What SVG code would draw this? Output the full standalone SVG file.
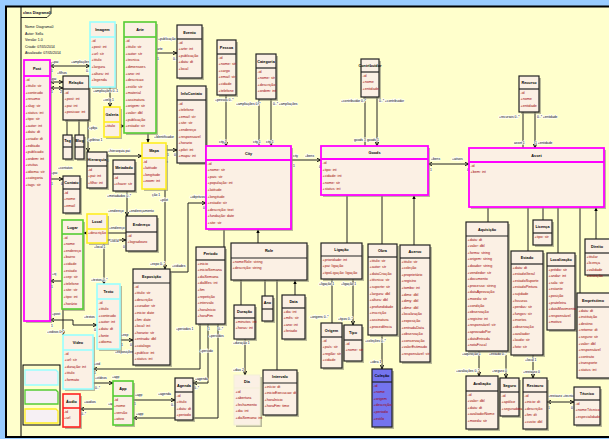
<svg xmlns="http://www.w3.org/2000/svg" width="609" height="439" viewBox="0 0 609 439">
<defs>
<style>
.sh{fill:#8c8c78;opacity:.6}
.b{fill:#fbf0e4;stroke:#222;stroke-width:1.2}
.mg{stroke:#ff00ff;stroke-width:1.8}
.cy{stroke:#99ffff;stroke-width:1.6}
.gr{stroke:#55cc33;stroke-width:1.6}
.ye{stroke:#ffee22;stroke-width:1.6}
.rd{stroke:#ff2222;stroke-width:1.6}
.pl{stroke:#f3efd6;stroke-width:1}
.bl{fill:#7474ee}
.hd{font-family:"Liberation Sans",Arial,sans-serif;font-size:3.8px;font-weight:bold;text-anchor:middle;fill:#000}
.at{font-family:"Liberation Sans",Arial,sans-serif;font-size:3.7px;fill:#a00000}
.lb{font-family:"Liberation Sans",Arial,sans-serif;font-size:3.3px;fill:#000;stroke:#fff;stroke-width:1.2px;paint-order:stroke}
.lg{font-family:"Liberation Sans",Arial,sans-serif;font-size:3.5px;fill:#002}
.c{fill:none;stroke:#222;stroke-width:1}
.o{marker-end:url(#open)}
.os{marker-start:url(#open)}
.t{marker-end:url(#tri)}
</style>
<marker id="open" viewBox="0 0 6 6" refX="6" refY="3" markerWidth="4" markerHeight="4" orient="auto-start-reverse"><path d="M0,0.5 L6,3 L0,5.5" fill="none" stroke="#000" stroke-width="1.3"/></marker>
<marker id="tri" viewBox="0 0 6 6" refX="6" refY="3" markerWidth="4" markerHeight="4" orient="auto"><path d="M0,0.5 L6,3 L0,5.5z" fill="#000"/></marker>
</defs>
<rect width="609" height="439" fill="#99ccff"/>
<rect x="6" y="6.5" width="610" height="430.5" fill="#ffffcc" stroke="#000" stroke-width="2"/>
<line x1="21" y1="7" x2="21" y2="437" stroke="#000" stroke-width="1"/>
<path d="M21,17.5 H47 L51,13.5 V7" fill="none" stroke="#000" stroke-width="0.8"/>
<text class="lg" x="23" y="14" font-weight="bold" fill="#000">class Diagrama0</text>
<g id="legenda-texto">
<text class="lg" x="25" y="28">Nome: Diagrama0</text>
<text class="lg" x="25" y="34.5">Autor: Sella</text>
<text class="lg" x="25" y="41">Versão: 1.0</text>
<text class="lg" x="25" y="47.5">Criado: 07/05/2014</text>
<text class="lg" x="25" y="54">Atualizado: 07/05/2014</text>
</g>

<g id="connectors">
<path class="c os o" d="M50,66 H90"/>
<text class="lb" x="52" y="63">+pai</text><text class="lb" x="71" y="63">+ampliações</text><text class="lb" x="51" y="71.5">1</text><text class="lb" x="86" y="71.5">0..*</text>
<path class="c os o" d="M50,82 H63"/>
<path class="c os o" d="M50,88 H63"/>
<text class="lb" x="57" y="74">+filhos</text><text class="lb" x="50" y="79.5">+pai</text><text class="lb" x="51" y="93">1</text><text class="lb" x="60" y="93">2</text>
<path class="c o" d="M110,87 V107"/>
<text class="lb" x="93" y="92">+ampliações 0..1</text><text class="lb" x="103" y="101">+velg 1</text>
<path class="c o" d="M120,126 H124"/>
<path class="c" d="M67,120 V135 M79,120 V135"/>
<path class="c o" d="M88,120 V152"/>
<text class="lb" x="89" y="129">+pbja</text><text class="lb" x="88" y="141">+ptbtiso 1</text>
<path class="c o" d="M156,53 H177"/>
<text class="lb" x="158" y="40">+publicação</text><text class="lb" x="157" y="50">arte</text><text class="lb" x="157" y="60">1</text><text class="lb" x="173" y="60">0..*</text>
<text class="lb" x="154" y="138">+Identificador</text>
<path class="c t" d="M148,133 V143"/>
<path class="c o" d="M226,95 V146"/>
<text class="lb" x="215" y="101">+pessoa 0..*</text><text class="lb" x="219" y="143">city 1</text>
<path class="c o" d="M259,99 V146 M271,99 V146"/>
<text class="lb" x="236" y="105">+ampliações 0..*</text><text class="lb" x="273" y="105">0..* +ampliações</text><text class="lb" x="253" y="143">city 1</text><text class="lb" x="266" y="143">city 1</text>
<path class="c o" d="M365,97 V146 M377,97 V146"/>
<text class="lb" x="341" y="102">+contribuidor 0..*</text><text class="lb" x="379" y="102">0..* +contribuidor</text><text class="lb" x="354" y="141">goods 1</text><text class="lb" x="367" y="141">goods 1</text>
<path class="c o" d="M523,112 V148 M535,112 V148"/>
<text class="lb" x="499" y="118">+recursos 0..*</text><text class="lb" x="537" y="118">0..* +entidade</text><text class="lb" x="514" y="144">asset 1</text><text class="lb" x="535" y="144">1 +entidade</text>
<path class="c o" d="M291,160 H321"/>
<text class="lb" x="293" y="157">city</text><text class="lb" x="293" y="167">1</text><text class="lb" x="305" y="157">+bens</text><text class="lb" x="319" y="168">0</text>
<path class="c os o" d="M428,164 H469"/>
<text class="lb" x="431" y="160">+bens</text><text class="lb" x="430" y="171">1</text><text class="lb" x="452" y="160">+ativos</text><text class="lb" x="467" y="171">0</text>
<path class="c t" d="M347,243 V195 M382,244 V195 M414,245 V195"/>
<path class="c t" d="M224,247 V229 M258,243 V229"/>
<path class="c t" d="M241,305 V280 M265,296 V280 M277,370 V280 M295,295 V280"/>
<path class="c t" d="M488,222 V207 M528,251 V207 M543,220 V207 M558,253 V207 M580,293 V207 M596,239 V207"/>
<path class="c o" d="M332,279 V323 M353,279 V325"/>
<text class="lb" x="319" y="285">+ligação 1</text><text class="lb" x="341" y="285">+ligação 1</text><text class="lb" x="310" y="318">+origens 0..*</text><text class="lb" x="338" y="320">+tipos 0..*</text>
<path class="c o" d="M382,335 V369"/>
<text class="lb" x="365" y="342">+coleções 0..*</text><text class="lb" x="370" y="363">+obra 1</text>
<path class="c o" d="M479,351 V376"/>
<text class="lb" x="462" y="355">+aquisição 1</text><text class="lb" x="456" y="372">+avaliações 0..*</text>
<path class="c o" d="M506,355 V378"/>
<text class="lb" x="489" y="355">+estado 0..*</text><text class="lb" x="492" y="372">+seguro 0</text>
<path class="c o" d="M533,330 V378"/>
<text class="lb" x="525" y="361">+local 1</text><text class="lb" x="523" y="373">+restauro 0</text>
<path class="c os o" d="M547,402 H574"/>
<text class="lb" x="548" y="397">+restauro +tecnico</text><text class="lb" x="548" y="409">1</text><text class="lb" x="571" y="409">0</text>
<path class="c o" d="M245,339 V375"/>
<text class="lb" x="233" y="344">+duração 1</text><text class="lb" x="233" y="371">+dias 2</text>
<path class="c o" d="M200,324 V369 H93"/>
<text class="lb" x="94" y="365">+vid</text><text class="lb" x="94" y="374">1</text>
<path class="c o" d="M208,324 V383 H193"/>
<text class="lb" x="195" y="380">+agenda</text><text class="lb" x="194" y="389">0..*</text>
<path class="c o" d="M218,324 V418 H133"/>
<text class="lb" x="136" y="415">+app</text>
<text class="lb" x="176" y="330">+periodos 1</text><text class="lb" x="208" y="330">1</text><text class="lb" x="218" y="330">0..*</text><text class="lb" x="209" y="337">+periodos</text><text class="lb" x="200" y="352">+periodo</text>
<path class="c o" d="M133,400 H175"/>
<text class="lb" x="135" y="396">+app</text><text class="lb" x="134" y="405">1</text><text class="lb" x="158" y="395">+agenda</text><text class="lb" x="171" y="406">0..*</text>
<path class="c o" d="M113,409 H80"/>
<text class="lb" x="84" y="403">+audios</text><text class="lb" x="81" y="415">0..*</text><text class="lb" x="108" y="405">+app</text>
<path class="c o" d="M93,383 H113"/>
<text class="lb" x="95" y="379">+vídeos</text><text class="lb" x="95" y="389">0..*</text><text class="lb" x="112" y="378">+app</text>
<path class="c os o" d="M50,320 H73 V325 H97"/>
<text class="lb" x="52" y="315">+post</text><text class="lb" x="51" y="327">1</text><text class="lb" x="84" y="318">+textos</text><text class="lb" x="94" y="331">0..*</text>
<path class="c os o" d="M50,281 H63 V335"/>
<text class="lb" x="52" y="275">+xj</text><text class="lb" x="51" y="288">1</text><text class="lb" x="47" y="333">+videos 0..*</text>
<path class="c o" d="M120,340 H133"/>
<text class="lb" x="121" y="336">+exp</text><text class="lb" x="121" y="346">1</text><text class="lb" x="130" y="346">0</text><text class="lb" x="115" y="353">+exposições</text>
<path class="c o" d="M50,179 H63"/>
<text class="lb" x="51" y="174">+pai</text><text class="lb" x="58" y="169">+contatos</text><text class="lb" x="51" y="185">1</text><text class="lb" x="61" y="185">0</text>
<path class="c t" d="M87,233 H83"/>
<path class="c o" d="M107,233 H126 M107,240 H126"/>
<text class="lb" x="109" y="229">+endereço</text><text class="lb" x="110" y="242">+local</text><text class="lb" x="123" y="248">0</text>
<path class="c o" d="M104,243 V284"/>
<text class="lb" x="94" y="248">+local 1</text><text class="lb" x="91" y="281">+textos 0..*</text>
<path class="c o" d="M127,191 V216"/>
<text class="lb" x="107" y="197">+metadados 0..*</text><text class="lb" x="108" y="212">+endereço</text><text class="lb" x="129" y="212">+endereçamento</text>
<path class="c o" d="M107,156 H142"/>
<text class="lb" x="108" y="152">+hierarquia pai</text><text class="lb" x="107" y="162">0</text>
<path class="c o" d="M166,150 H177"/>
<text class="lb" x="167" y="156">1</text><text class="lb" x="174" y="156">0</text><text class="lb" x="160" y="163">+pilot</text>
<path class="c o" d="M165,189 V269"/>
<text class="lb" x="152" y="196">ção 1</text><text class="lb" x="160" y="201">+pilot</text><text class="lb" x="150" y="265">+expo 0..*</text>
<path class="c o" d="M170,272 H188 V203 H206"/>
<text class="lb" x="172" y="267">+cidades</text><text class="lb" x="190" y="198">+objetivos</text><text class="lb" x="203" y="209">0</text>
</g>

<g id="n-post"><rect class="sh" x="26" y="62" width="26" height="261"/><rect class="b mg" x="24" y="60" width="26" height="261"/><line class="b mg" x1="24" y1="76" x2="50" y2="76"/><text class="hd" x="37" y="69.5">Post</text>
<text class="at" x="25.5" y="80.5">-id<tspan x="25.5" dy="6.6">+titulo: str</tspan><tspan x="25.5" dy="6.6">+conteudo</tspan><tspan x="25.5" dy="6.6">+resumo</tspan><tspan x="25.5" dy="6.6">+slug: str</tspan><tspan x="25.5" dy="6.6">+status: int</tspan><tspan x="25.5" dy="6.6">+tipo: str</tspan><tspan x="25.5" dy="6.6">+autor: int</tspan><tspan x="25.5" dy="6.6">+data: dt</tspan><tspan x="25.5" dy="6.6">+criado: dt</tspan><tspan x="25.5" dy="6.6">+editado</tspan><tspan x="25.5" dy="6.6">+publicado</tspan><tspan x="25.5" dy="6.6">+ordem: int</tspan><tspan x="25.5" dy="6.6">+visitas</tspan><tspan x="25.5" dy="6.6">+idioma: str</tspan><tspan x="25.5" dy="6.6">+categoria</tspan><tspan x="25.5" dy="6.6">+tags: str</tspan></text></g>

<g id="n-relacao"><rect class="sh" x="65" y="78" width="26" height="44"/><rect class="b" x="63" y="76" width="26" height="44" stroke-width="1.4"/><line class="b" x1="63" y1="89" x2="89" y2="89"/><text class="hd" x="76" y="84">Relação</text>
<text class="at" x="64.5" y="93.5">-id<tspan x="64.5" dy="6.6">+post: int</tspan><tspan x="64.5" dy="6.6">+pai: int</tspan><tspan x="64.5" dy="6.6">+posicao: int</tspan></text></g>

<g id="n-tag"><rect class="sh" x="65" y="137" width="9" height="24"/><rect class="b" x="63" y="135" width="9" height="24"/><line class="b" x1="63" y1="147" x2="72" y2="147"/><text class="hd" x="67.5" y="142" font-size="2.8px">Tag</text></g>
<g id="n-blog"><rect class="sh" x="77" y="137" width="9" height="24"/><rect class="b" x="75" y="135" width="9" height="24"/><line class="b" x1="75" y1="147" x2="84" y2="147"/><text class="hd" x="79.5" y="142" font-size="2.8px">Blog</text></g>

<g id="n-imagem"><rect class="sh" x="92" y="24" width="25" height="65"/><rect class="b cy" x="90" y="22" width="25" height="65"/><line class="b cy" x1="90" y1="37" x2="115" y2="37"/><text class="hd" x="102.5" y="31">Imagem</text>
<text class="at" x="91.5" y="41.5">-id<tspan x="91.5" dy="6.6">+post: int</tspan><tspan x="91.5" dy="6.6">+url: str</tspan><tspan x="91.5" dy="6.6">+titulo</tspan><tspan x="91.5" dy="6.6">+largura</tspan><tspan x="91.5" dy="6.6">+altura: int</tspan><tspan x="91.5" dy="6.6">+legenda</tspan></text></g>

<g id="n-arte"><rect class="sh" x="126" y="24" width="32" height="111"/><rect class="b gr" x="124" y="22" width="32" height="111"/><line class="b gr" x1="124" y1="37" x2="156" y2="37"/><text class="hd" x="140" y="31">Arte</text>
<text class="at" x="125.5" y="41.5">-id<tspan x="125.5" dy="6.6">+titulo: str</tspan><tspan x="125.5" dy="6.6">+autor: str</tspan><tspan x="125.5" dy="6.6">+tecnica</tspan><tspan x="125.5" dy="6.6">+dimensoes</tspan><tspan x="125.5" dy="6.6">+ano: int</tspan><tspan x="125.5" dy="6.6">+descricao</tspan><tspan x="125.5" dy="6.6">+estilo: str</tspan><tspan x="125.5" dy="6.6">+material</tspan><tspan x="125.5" dy="6.6">+assinatura</tspan><tspan x="125.5" dy="6.6">+origem: str</tspan><tspan x="125.5" dy="6.6">+valor: dbl</tspan><tspan x="125.5" dy="6.6">+publicação</tspan><tspan x="125.5" dy="6.6">+estado: str</tspan></text></g>

<g id="n-galeria"><rect class="sh" x="106" y="109" width="16" height="30"/><rect class="b ye" x="104" y="107" width="16" height="30"/><line class="b ye" x1="104" y1="122" x2="120" y2="122"/><text class="hd" x="112" y="116" font-size="3px">Galeria</text>
<text class="at" x="105" y="126.5">+titulo</text></g>

<g id="n-evento"><rect class="sh" x="179" y="27" width="25" height="53"/><rect class="b" x="177" y="25" width="25" height="53"/><line class="b" x1="177" y1="39" x2="202" y2="39"/><text class="hd" x="189.5" y="33.5">Evento</text>
<text class="at" x="178.5" y="43.5">-id<tspan x="178.5" dy="6.6">+arte: int</tspan><tspan x="178.5" dy="6.6">+publicação</tspan><tspan x="178.5" dy="6.6">+data: dt</tspan><tspan x="178.5" dy="6.6">+local</tspan></text></g>

<g id="n-infocontato"><rect class="sh" x="179" y="88" width="29" height="77"/><rect class="b" x="177" y="86" width="29" height="77"/><line class="b" x1="177" y1="100" x2="206" y2="100"/><text class="hd" x="191.5" y="94.5" font-size="3px">InfoContato</text>
<text class="at" x="178.5" y="104.5">-id<tspan x="178.5" dy="6.6">+telefone</tspan><tspan x="178.5" dy="6.6">+email: str</tspan><tspan x="178.5" dy="6.6">+site: str</tspan><tspan x="178.5" dy="6.6">+endereço</tspan><tspan x="178.5" dy="6.6">+responsavel</tspan><tspan x="178.5" dy="6.6">+horario</tspan><tspan x="178.5" dy="6.6">+pilot: int</tspan><tspan x="178.5" dy="6.6">+mapa: int</tspan></text></g>

<g id="n-pessoa"><rect class="sh" x="219" y="42" width="19" height="55"/><rect class="b" x="217" y="40" width="19" height="55"/><line class="b" x1="217" y1="54" x2="236" y2="54"/><text class="hd" x="226.5" y="48.5">Pessoa</text>
<text class="at" x="218.5" y="58.5">-id<tspan x="218.5" dy="6.6">+nome: str</tspan><tspan x="218.5" dy="6.6">+cargo</tspan><tspan x="218.5" dy="6.6">+email: str</tspan><tspan x="218.5" dy="6.6">+cidade</tspan><tspan x="218.5" dy="6.6">+telefone</tspan></text></g>

<g id="n-categoria"><rect class="sh" x="258" y="56" width="20" height="45"/><rect class="b" x="256" y="54" width="20" height="45"/><line class="b" x1="256" y1="68" x2="276" y2="68"/><text class="hd" x="266" y="62.5">Categoria</text>
<text class="at" x="257.5" y="72.5">-id<tspan x="257.5" dy="6.6">+nome: str</tspan><tspan x="257.5" dy="6.6">+descrição</tspan><tspan x="257.5" dy="6.6">+ordem: int</tspan></text></g>

<g id="n-contribuidor"><rect class="sh" x="363" y="61" width="18" height="38"/><rect class="b" x="361" y="59" width="18" height="38"/><line class="b" x1="361" y1="72" x2="379" y2="72"/><text class="hd" x="370" y="67" font-size="2.8px">Contribuidor</text>
<text class="at" x="362.5" y="76.5">-id<tspan x="362.5" dy="6.6">+nome</tspan><tspan x="362.5" dy="6.6">+entidade</tspan></text></g>

<g id="n-recurso"><rect class="sh" x="521" y="78" width="20" height="36"/><rect class="b" x="519" y="76" width="20" height="36"/><line class="b" x1="519" y1="89" x2="539" y2="89"/><text class="hd" x="529" y="84">Recurso</text>
<text class="at" x="520.5" y="93.5">-id<tspan x="520.5" dy="6.6">+nome</tspan><tspan x="520.5" dy="6.6">+entidade</tspan></text></g>

<g id="n-city"><rect class="sh" x="208" y="148" width="85" height="83"/><rect class="b mg" x="206" y="146" width="85" height="83"/><line class="b mg" x1="206" y1="160" x2="291" y2="160"/><text class="hd" x="248.5" y="154.5">City</text>
<text class="at" x="207.5" y="164.5">-id<tspan x="207.5" dy="6.6">+nome: str</tspan><tspan x="207.5" dy="6.6">+pais: str</tspan><tspan x="207.5" dy="6.6">+população: int</tspan><tspan x="207.5" dy="6.6">+latitude</tspan><tspan x="207.5" dy="6.6">+longitude</tspan><tspan x="207.5" dy="6.6">+estado: str</tspan><tspan x="207.5" dy="6.6">+descrição: text</tspan><tspan x="207.5" dy="6.6">+fundação: date</tspan><tspan x="207.5" dy="6.6">+site: str</tspan></text></g>

<g id="n-goods"><rect class="sh" x="323" y="148" width="107" height="49"/><rect class="b mg" x="321" y="146" width="107" height="49"/><line class="b mg" x1="321" y1="159" x2="428" y2="159"/><text class="hd" x="374.5" y="154">Goods</text>
<text class="at" x="322.5" y="164">-id<tspan x="322.5" dy="6.6">+tipo: int</tspan><tspan x="322.5" dy="6.6">+cidade: int</tspan><tspan x="322.5" dy="6.6">+nome: str</tspan><tspan x="322.5" dy="6.6">+status: int</tspan></text></g>

<g id="n-asset"><rect class="sh" x="471" y="150" width="135" height="59"/><rect class="b mg" x="469" y="148" width="135" height="59"/><line class="b mg" x1="469" y1="162" x2="604" y2="162"/><text class="hd" x="536.5" y="156.5">Asset</text>
<text class="at" x="470.5" y="166.5">-id<tspan x="470.5" dy="6.6">+bem: int</tspan></text></g>

<g id="n-contato"><rect class="sh" x="65" y="178" width="17" height="37"/><rect class="b" x="63" y="176" width="17" height="37"/><line class="b" x1="63" y1="189" x2="80" y2="189"/><text class="hd" x="71.5" y="184" font-size="3px">Contato</text>
<text class="at" x="64" y="193.5">-id<tspan x="64" dy="6.6">+nome</tspan><tspan x="64" dy="6.6">+email</tspan></text></g>

<g id="n-hierarquia"><rect class="sh" x="89" y="154" width="20" height="36"/><rect class="b" x="87" y="152" width="20" height="36"/><line class="b" x1="87" y1="166" x2="107" y2="166"/><text class="hd" x="97" y="160.5" font-size="3px">Hierarquia</text>
<text class="at" x="88" y="170.5">-id<tspan x="88" dy="6.6">+pai: int</tspan><tspan x="88" dy="6.6">+filho: int</tspan></text></g>

<g id="n-metadado"><rect class="sh" x="115" y="162" width="22" height="31"/><rect class="b" x="113" y="160" width="22" height="31"/><line class="b" x1="113" y1="174" x2="135" y2="174"/><text class="hd" x="124" y="168.5" font-size="3px">Metadado</text>
<text class="at" x="114" y="178.5">-id<tspan x="114" dy="6.6">+chave: str</tspan></text></g>

<g id="n-mapa"><rect class="sh" x="144" y="145" width="24" height="46"/><rect class="b ye" x="142" y="143" width="24" height="46"/><line class="b ye" x1="142" y1="158" x2="166" y2="158"/><text class="hd" x="154" y="152">Mapa</text>
<text class="at" x="143" y="162.5">-id<tspan x="143" dy="6.6">+latitude</tspan><tspan x="143" dy="6.6">+longitude</tspan><tspan x="143" dy="6.6">+zoom: int</tspan></text></g>

<g id="n-lugar"><rect class="sh" x="64" y="222" width="21" height="89"/><rect class="b gr" x="62" y="220" width="21" height="89"/><line class="b gr" x1="62" y1="234" x2="83" y2="234"/><text class="hd" x="72.5" y="228.5">Lugar</text>
<text class="at" x="63.5" y="238.5">-id<tspan x="63.5" dy="6.6">+nome</tspan><tspan x="63.5" dy="6.6">+endereço</tspan><tspan x="63.5" dy="6.6">+bairro</tspan><tspan x="63.5" dy="6.6">+cidade</tspan><tspan x="63.5" dy="6.6">+estado</tspan><tspan x="63.5" dy="6.6">+cep: str</tspan><tspan x="63.5" dy="6.6">+telefone</tspan><tspan x="63.5" dy="6.6">+site: str</tspan><tspan x="63.5" dy="6.6">+tipo: int</tspan><tspan x="63.5" dy="6.6">+horário</tspan></text></g>

<g id="n-local"><rect class="sh" x="89" y="216" width="20" height="29"/><rect class="b ye" x="87" y="214" width="20" height="29"/><line class="b ye" x1="87" y1="229" x2="107" y2="229"/><text class="hd" x="97" y="223">Local</text>
<text class="at" x="88" y="233.5">+descrição</text></g>

<g id="n-endereco"><rect class="sh" x="128" y="218" width="31" height="35"/><rect class="b" x="126" y="216" width="31" height="35"/><line class="b" x1="126" y1="232" x2="157" y2="232"/><text class="hd" x="141.5" y="225.5">Endereço</text>
<text class="at" x="127.5" y="236.5">-id<tspan x="127.5" dy="6.6">+logradouro</tspan></text></g>

<g id="n-texto"><rect class="sh" x="99" y="286" width="23" height="65"/><rect class="b cy" x="97" y="284" width="23" height="65"/><line class="b cy" x1="97" y1="299" x2="120" y2="299"/><text class="hd" x="108.5" y="293">Texto</text>
<text class="at" x="98.5" y="303.5">-id<tspan x="98.5" dy="6.6">+titulo</tspan><tspan x="98.5" dy="6.6">+conteudo</tspan><tspan x="98.5" dy="6.6">+autor: int</tspan><tspan x="98.5" dy="6.6">+data: dt</tspan><tspan x="98.5" dy="6.6">+fonte</tspan><tspan x="98.5" dy="6.6">+idioma</tspan></text></g>

<g id="n-exposicao"><rect class="sh" x="135" y="271" width="37" height="96"/><rect class="b" x="133" y="269" width="37" height="96"/><line class="b" x1="133" y1="283" x2="170" y2="283"/><text class="hd" x="151.5" y="277.5">Exposição</text>
<text class="at" x="134.5" y="287.5">-id<tspan x="134.5" dy="6.6">+titulo: str</tspan><tspan x="134.5" dy="6.6">+descrição</tspan><tspan x="134.5" dy="6.6">+curador: str</tspan><tspan x="134.5" dy="6.6">+inicio: date</tspan><tspan x="134.5" dy="6.6">+fim: date</tspan><tspan x="134.5" dy="6.6">+local: int</tspan><tspan x="134.5" dy="6.6">+horario: str</tspan><tspan x="134.5" dy="6.6">+entrada: dbl</tspan><tspan x="134.5" dy="6.6">+catalogo</tspan><tspan x="134.5" dy="6.6">+publico: int</tspan><tspan x="134.5" dy="6.6">+status: int</tspan></text></g>

<g id="n-video"><rect class="sh" x="65" y="337" width="30" height="54"/><rect class="b cy" x="63" y="335" width="30" height="54"/><line class="b cy" x1="63" y1="350" x2="93" y2="350"/><text class="hd" x="78" y="344">Vídeo</text>
<text class="at" x="64.5" y="354.5">-id<tspan x="64.5" dy="6.6">+url: str</tspan><tspan x="64.5" dy="6.6">+duração: int</tspan><tspan x="64.5" dy="6.6">+titulo</tspan><tspan x="64.5" dy="6.6">+formato</tspan></text></g>

<g id="n-app"><rect class="sh" x="115" y="383" width="20" height="44"/><rect class="b gr" x="113" y="381" width="20" height="44"/><line class="b gr" x1="113" y1="396" x2="133" y2="396"/><text class="hd" x="123" y="390">App</text>
<text class="at" x="114" y="400.5">-id<tspan x="114" dy="6.6">+nome</tspan><tspan x="114" dy="6.6">+versão</tspan><tspan x="114" dy="6.6">+ativo</tspan></text></g>

<g id="n-audio"><rect class="sh" x="65" y="396" width="17" height="33"/><rect class="b rd" x="63" y="394" width="17" height="33"/><line class="b rd" x1="63" y1="408" x2="80" y2="408"/><text class="hd" x="71.5" y="402.5">Áudio</text>
<text class="at" x="64" y="412.5">-id<tspan x="64" dy="6.6">+url</tspan></text></g>

<g id="n-periodo"><rect class="sh" x="198" y="249" width="29" height="77"/><rect class="b" x="196" y="247" width="29" height="77"/><line class="b" x1="196" y1="260" x2="225" y2="260"/><text class="hd" x="210.5" y="255">Periodo</text>
<text class="at" x="197.5" y="264.5">+inicio<tspan x="197.5" dy="6.6">+inicioSemana</tspan><tspan x="197.5" dy="6.6">+diaSemana</tspan><tspan x="197.5" dy="6.6">+diaMes: int</tspan><tspan x="197.5" dy="6.6">+fim</tspan><tspan x="197.5" dy="6.6">+repetição</tspan><tspan x="197.5" dy="6.6">+intervalo</tspan><tspan x="197.5" dy="6.6">+horaInicio</tspan><tspan x="197.5" dy="6.6">+horaFim</tspan></text></g>

<g id="n-role"><rect class="sh" x="233" y="245" width="76" height="37"/><rect class="b" x="231" y="243" width="76" height="37"/><line class="b" x1="231" y1="258" x2="307" y2="258"/><text class="hd" x="269" y="252">Role</text>
<text class="at" x="232.5" y="262.5">+nomeRole: string<tspan x="232.5" dy="6.6">+descrição: string</tspan></text></g>

<g id="n-duracao"><rect class="sh" x="236" y="307" width="21" height="34"/><rect class="b" x="234" y="305" width="21" height="34"/><line class="b" x1="234" y1="318" x2="255" y2="318"/><text class="hd" x="244.5" y="313">Duração</text>
<text class="at" x="235.5" y="322.5">+minutos: int<tspan x="235.5" dy="6.6">+horas: int</tspan></text></g>

<g id="n-ano"><rect class="sh" x="264" y="298" width="11" height="25"/><rect class="b" x="262" y="296" width="11" height="25"/><line class="b" x1="262" y1="309" x2="273" y2="309"/><text class="hd" x="267.5" y="304" font-size="3px">Ano</text></g>

<g id="n-data"><rect class="sh" x="284" y="297" width="23" height="44"/><rect class="b" x="282" y="295" width="23" height="44"/><line class="b" x1="282" y1="308" x2="305" y2="308"/><text class="hd" x="293.5" y="303">Data</text>
<text class="at" x="283.5" y="312.5">+dia: int<tspan x="283.5" dy="6.6">+mês: str</tspan><tspan x="283.5" dy="6.6">+ano: int</tspan><tspan x="283.5" dy="6.6">+feriado</tspan></text></g>

<g id="n-agenda"><rect class="sh" x="177" y="380" width="18" height="42"/><rect class="b" x="175" y="378" width="18" height="42"/><line class="b" x1="175" y1="392" x2="193" y2="392"/><text class="hd" x="184" y="386.5">Agenda</text>
<text class="at" x="176.5" y="396.5">-id<tspan x="176.5" dy="6.6">+titulo</tspan><tspan x="176.5" dy="6.6">+data: dt</tspan><tspan x="176.5" dy="6.6">+periodo</tspan></text></g>

<g id="n-dia"><rect class="sh" x="236" y="377" width="26" height="50" opacity=".3"/><rect class="b pl" x="234" y="375" width="26" height="50"/><line class="b pl" x1="234" y1="388" x2="260" y2="388"/><text class="hd" x="247" y="383">Dia</text>
<text class="at" x="235.5" y="392.5">+id<tspan x="235.5" dy="6.6">+abertura</tspan><tspan x="235.5" dy="6.6">+fechamento</tspan><tspan x="235.5" dy="6.6">+dia: int</tspan><tspan x="235.5" dy="6.6">+diaSemana: int</tspan></text></g>

<g id="n-intervalo"><rect class="sh" x="265" y="372" width="34" height="45"/><rect class="b" x="263" y="370" width="34" height="45"/><line class="b" x1="263" y1="383" x2="297" y2="383"/><text class="hd" x="280" y="378">Intervalo</text>
<text class="at" x="264.5" y="387.5">+início: dt<tspan x="264.5" dy="6.6">+inicioExecucao: dt</tspan><tspan x="264.5" dy="6.6">+horaInicio</tspan><tspan x="264.5" dy="6.6">+horaFim: time</tspan></text></g>

<g id="n-ligacao"><rect class="sh" x="323" y="245" width="41" height="36"/><rect class="b" x="321" y="243" width="41" height="36"/><line class="b" x1="321" y1="256" x2="362" y2="256"/><text class="hd" x="341.5" y="251">Ligação</text>
<text class="at" x="322.5" y="260.5">+prioridade: int<tspan x="322.5" dy="6.6">+pai: ligação</tspan><tspan x="322.5" dy="6.6">+tipoLigação: ligação</tspan></text></g>

<g id="n-obra"><rect class="sh" x="370" y="246" width="29" height="91"/><rect class="b" x="368" y="244" width="29" height="91"/><line class="b" x1="368" y1="257" x2="397" y2="257"/><text class="hd" x="382.5" y="252">Obra</text>
<text class="at" x="369.5" y="261.5">+titulo: str<tspan x="369.5" dy="6.6">+autor: str</tspan><tspan x="369.5" dy="6.6">+dataCriação</tspan><tspan x="369.5" dy="6.6">+técnica: str</tspan><tspan x="369.5" dy="6.6">+suporte: str</tspan><tspan x="369.5" dy="6.6">+largura: dbl</tspan><tspan x="369.5" dy="6.6">+altura: dbl</tspan><tspan x="369.5" dy="6.6">+profundidade</tspan><tspan x="369.5" dy="6.6">+inscrição</tspan><tspan x="369.5" dy="6.6">+assinatura</tspan><tspan x="369.5" dy="6.6">+procedência</tspan></text></g>

<g id="n-acervo"><rect class="sh" x="402" y="247" width="30" height="117"/><rect class="b" x="400" y="245" width="30" height="117"/><line class="b" x1="400" y1="258" x2="430" y2="258"/><text class="hd" x="415" y="253">Acervo</text>
<text class="at" x="401.5" y="262.5">+titulo: str<tspan x="401.5" dy="6.6">+coleção</tspan><tspan x="401.5" dy="6.6">+proprietário</tspan><tspan x="401.5" dy="6.6">+registro</tspan><tspan x="401.5" dy="6.6">+tombo: int</tspan><tspan x="401.5" dy="6.6">+dimx: dbl</tspan><tspan x="401.5" dy="6.6">+dimy: dbl</tspan><tspan x="401.5" dy="6.6">+dimz: dbl</tspan><tspan x="401.5" dy="6.6">+localização</tspan><tspan x="401.5" dy="6.6">+exposição</tspan><tspan x="401.5" dy="6.6">+entradaData</tspan><tspan x="401.5" dy="6.6">+observação</tspan><tspan x="401.5" dy="6.6">+conservação</tspan><tspan x="401.5" dy="6.6">+valorEstimado</tspan><tspan x="401.5" dy="6.6">+responsável: str</tspan></text></g>

<g id="n-origem"><rect class="sh" x="323" y="325" width="21" height="45"/><rect class="b" x="321" y="323" width="21" height="45"/><line class="b" x1="321" y1="337" x2="342" y2="337"/><text class="hd" x="331.5" y="331.5">Origem</text>
<text class="at" x="322.5" y="341.5">-id<tspan x="322.5" dy="6.6">+país: str</tspan><tspan x="322.5" dy="6.6">+região: str</tspan><tspan x="322.5" dy="6.6">+cidade</tspan></text></g>

<g id="n-tipo"><rect class="sh" x="346" y="327" width="18" height="36"/><rect class="b" x="344" y="325" width="18" height="36"/><line class="b" x1="344" y1="340" x2="362" y2="340"/><text class="hd" x="353" y="334">Tipo</text>
<text class="at" x="345.5" y="344.5">-id<tspan x="345.5" dy="6.6">+nome: str</tspan></text></g>

<g id="n-colecao"><rect class="sh" x="374" y="371" width="20" height="58"/><rect class="b bl" x="372" y="369" width="20" height="58"/><line class="b" x1="372" y1="382" x2="392" y2="382"/><text class="hd" x="382" y="377">Coleção</text>
<text class="at" x="373.5" y="386.5">-id<tspan x="373.5" dy="6.6">+nome</tspan><tspan x="373.5" dy="6.6">+origem</tspan><tspan x="373.5" dy="6.6">+descrição</tspan><tspan x="373.5" dy="6.6">+periodo</tspan><tspan x="373.5" dy="6.6">+estilo</tspan></text></g>

<g id="n-aquisicao"><rect class="sh" x="468" y="224" width="42" height="129"/><rect class="b" x="466" y="222" width="42" height="129"/><line class="b" x1="466" y1="236" x2="508" y2="236"/><text class="hd" x="487" y="230.5">Aquisição</text>
<text class="at" x="467.5" y="240.5">+data: dt<tspan x="467.5" dy="6.6">+valor: dbl</tspan><tspan x="467.5" dy="6.6">+forma: string</tspan><tspan x="467.5" dy="6.6">+origem: string</tspan><tspan x="467.5" dy="6.6">+doador: string</tspan><tspan x="467.5" dy="6.6">+vendedor: str</tspan><tspan x="467.5" dy="6.6">+documento</tspan><tspan x="467.5" dy="6.6">+processo: string</tspan><tspan x="467.5" dy="6.6">+dataAprovação</tspan><tspan x="467.5" dy="6.6">+moeda: str</tspan><tspan x="467.5" dy="6.6">+condição</tspan><tspan x="467.5" dy="6.6">+observação</tspan><tspan x="467.5" dy="6.6">+registro: int</tspan><tspan x="467.5" dy="6.6">+responsável: str</tspan><tspan x="467.5" dy="6.6">+aprovadoPor</tspan><tspan x="467.5" dy="6.6">+dataEntrada</tspan><tspan x="467.5" dy="6.6">+notaFiscal</tspan></text></g>

<g id="n-estado"><rect class="sh" x="513" y="253" width="32" height="104"/><rect class="b" x="511" y="251" width="32" height="104"/><line class="b" x1="511" y1="264" x2="543" y2="264"/><text class="hd" x="527" y="259">Estado</text>
<text class="at" x="512.5" y="268.5">+data: dt<tspan x="512.5" dy="6.6">+estadoGeral</tspan><tspan x="512.5" dy="6.6">+estadoSuporte</tspan><tspan x="512.5" dy="6.6">+estadoPintura</tspan><tspan x="512.5" dy="6.6">+sujidade</tspan><tspan x="512.5" dy="6.6">+fissuras</tspan><tspan x="512.5" dy="6.6">+perdas: str</tspan><tspan x="512.5" dy="6.6">+fungos: str</tspan><tspan x="512.5" dy="6.6">+insetos</tspan><tspan x="512.5" dy="6.6">+observação</tspan><tspan x="512.5" dy="6.6">+avaliador</tspan><tspan x="512.5" dy="6.6">+laudo: str</tspan><tspan x="512.5" dy="6.6">+foto: str</tspan></text></g>

<g id="n-licenca"><rect class="sh" x="535" y="222" width="19" height="25"/><rect class="b" x="533" y="220" width="19" height="25"/><line class="b" x1="533" y1="233" x2="552" y2="233"/><text class="hd" x="542.5" y="228">Licença</text>
<text class="at" x="534.5" y="237.5">+tipo: str</text></g>

<g id="n-localizacao"><rect class="sh" x="549" y="255" width="28" height="77"/><rect class="b" x="547" y="253" width="28" height="77"/><line class="b" x1="547" y1="266" x2="575" y2="266"/><text class="hd" x="561" y="261" font-size="3px">Localização</text>
<text class="at" x="548.5" y="270.5">+prédio: str<tspan x="548.5" dy="6.6">+andar: int</tspan><tspan x="548.5" dy="6.6">+sala: str</tspan><tspan x="548.5" dy="6.6">+estante</tspan><tspan x="548.5" dy="6.6">+posição</tspan><tspan x="548.5" dy="6.6">+prateleira</tspan><tspan x="548.5" dy="6.6">+dataMovimento</tspan><tspan x="548.5" dy="6.6">+responsável</tspan><tspan x="548.5" dy="6.6">+motivo</tspan></text></g>

<g id="n-direito"><rect class="sh" x="587" y="241" width="31" height="36"/><rect class="b" x="585" y="239" width="31" height="36"/><line class="b" x1="585" y1="253" x2="616" y2="253"/><text class="hd" x="597" y="247.5">Direito</text>
<text class="at" x="586.5" y="257.5">+titular<tspan x="586.5" dy="6.6">+licença</tspan><tspan x="586.5" dy="6.6">+validade</tspan><tspan x="586.5" dy="6.6">+restrição</tspan></text></g>

<g id="n-emprestimo"><rect class="sh" x="579" y="295" width="34" height="85"/><rect class="b" x="577" y="293" width="34" height="85"/><line class="b" x1="577" y1="307" x2="611" y2="307"/><text class="hd" x="593" y="301.5">Empréstimo</text>
<text class="at" x="578.5" y="311.5">+data: dt<tspan x="578.5" dy="6.6">+instituição</tspan><tspan x="578.5" dy="6.6">+destino</tspan><tspan x="578.5" dy="6.6">+retorno: dt</tspan><tspan x="578.5" dy="6.6">+seguro: str</tspan><tspan x="578.5" dy="6.6">+valor: dbl</tspan><tspan x="578.5" dy="6.6">+responsável</tspan><tspan x="578.5" dy="6.6">+contrato</tspan><tspan x="578.5" dy="6.6">+transporte</tspan><tspan x="578.5" dy="6.6">+status: int</tspan></text></g>

<g id="n-avaliacao"><rect class="sh" x="468" y="378" width="32" height="53"/><rect class="b" x="466" y="376" width="32" height="53"/><line class="b" x1="466" y1="391" x2="498" y2="391"/><text class="hd" x="482" y="385">Avaliação</text>
<text class="at" x="467.5" y="395.5">-id<tspan x="467.5" dy="6.6">+valor: dbl</tspan><tspan x="467.5" dy="6.6">+data: dt</tspan><tspan x="467.5" dy="6.6">+avaliadorNome</tspan><tspan x="467.5" dy="6.6">+moeda: str</tspan></text></g>

<g id="n-seguro"><rect class="sh" x="502" y="380" width="19" height="38"/><rect class="b" x="500" y="378" width="19" height="38"/><line class="b" x1="500" y1="392" x2="519" y2="392"/><text class="hd" x="509.5" y="386.5">Seguro</text>
<text class="at" x="501.5" y="396.5">-id<tspan x="501.5" dy="6.6">+apólice</tspan><tspan x="501.5" dy="6.6">+seguradora</tspan></text></g>

<g id="n-restauro"><rect class="sh" x="525" y="380" width="24" height="51"/><rect class="b" x="523" y="378" width="24" height="51"/><line class="b" x1="523" y1="392" x2="547" y2="392"/><text class="hd" x="535" y="386.5">Restauro</text>
<text class="at" x="524.5" y="396.5">-id<tspan x="524.5" dy="6.6">+inicio: dt</tspan><tspan x="524.5" dy="6.6">+descrição</tspan><tspan x="524.5" dy="6.6">+fim: dt</tspan><tspan x="524.5" dy="6.6">+custo: dbl</tspan></text></g>

<g id="n-tecnico"><rect class="sh" x="576" y="389" width="26" height="38"/><rect class="b" x="574" y="387" width="26" height="38"/><line class="b" x1="574" y1="400" x2="600" y2="400"/><text class="hd" x="587" y="395">Técnico</text>
<text class="at" x="575.5" y="404.5">-id<tspan x="575.5" dy="6.6">+nomeTécnico</tspan><tspan x="575.5" dy="6.6">+especialidade</tspan></text></g>

<g id="legenda">
<rect x="23" y="365" width="37" height="60" fill="none" stroke="#000" stroke-width="1"/>
<path d="M25,370 H56 L58,372 V385 H25Z" fill="#f6f0f4" stroke="#99ffff" stroke-width="1.3"/>
<path d="M25,390 H56 L58,392 V404 H25Z" fill="#f6f0f4" stroke="#55cc33" stroke-width="1.3"/>
<path d="M25,409 H56 L58,411 V423 H25Z" fill="#f6f0f4" stroke="#ffee22" stroke-width="1.3"/>
</g>
</svg>
